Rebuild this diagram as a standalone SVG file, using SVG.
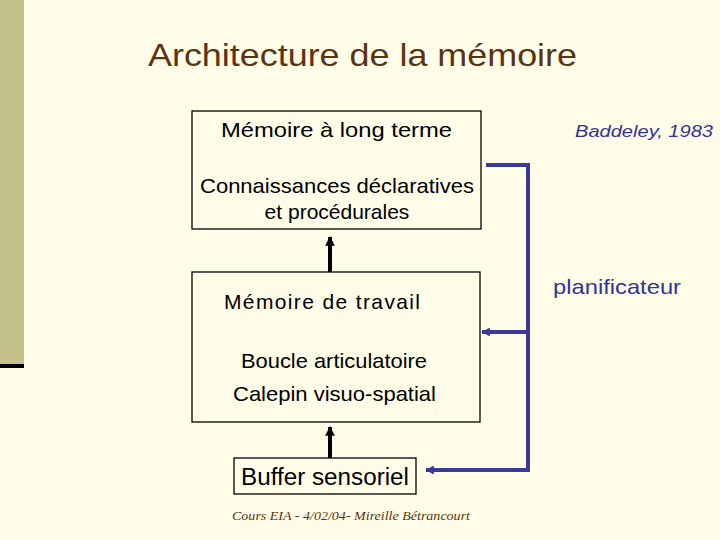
<svg xmlns="http://www.w3.org/2000/svg" width="720" height="540" viewBox="0 0 720 540">
<defs>
<style>
.t{font-family:"Liberation Sans",Arial,sans-serif;fill:#000}
.box{fill:none;stroke:#000;stroke-width:1.3}
.blk{stroke:#000;stroke-width:4;fill:none}
.blu{stroke:#3a3a9c;stroke-width:4;fill:none}
</style>
<marker id="ab" viewBox="0 0 10 10" refX="9" refY="5" markerWidth="2.4" markerHeight="2.4" orient="auto" markerUnits="strokeWidth"><path d="M0,0 L10,5 L0,10 z" fill="#000"/></marker>
<marker id="au" viewBox="0 0 10 10" refX="9" refY="5" markerWidth="2.4" markerHeight="2.2" orient="auto" markerUnits="strokeWidth"><path d="M0,0 L10,5 L0,10 z" fill="#3a3a9c"/></marker>
</defs>
<rect width="720" height="540" fill="#fffde8"/>
<rect x="0" y="0" width="24" height="364" fill="#c4c18a"/>
<rect x="0" y="364" width="24" height="4" fill="#000"/>
<text x="148" y="66" font-family="Liberation Sans,Arial,sans-serif" font-size="32" fill="#5c3310" textLength="429" lengthAdjust="spacingAndGlyphs">Architecture de la mémoire</text>
<g id="ltm">
<rect class="box" x="192" y="111" width="289" height="118"/>
<text class="t" x="221" y="137" font-size="21" textLength="231" lengthAdjust="spacingAndGlyphs">Mémoire à long terme</text>
<text class="t" x="200" y="193" font-size="21" textLength="274" lengthAdjust="spacingAndGlyphs">Connaissances déclaratives</text>
<text class="t" x="337" y="219" font-size="21" text-anchor="middle">et procédurales</text>
</g>
<g id="wm">
<rect class="box" x="192" y="272" width="288" height="150"/>
<text class="t" x="224" y="309" font-size="21" textLength="196" lengthAdjust="spacing">Mémoire de travail</text>
<text class="t" x="241" y="368" font-size="21" textLength="186" lengthAdjust="spacingAndGlyphs">Boucle articulatoire</text>
<text class="t" x="233" y="401" font-size="21" textLength="203" lengthAdjust="spacingAndGlyphs">Calepin visuo-spatial</text>
</g>
<g id="buffer">
<rect class="box" x="234" y="458" width="182" height="36"/>
<text class="t" x="241" y="485" font-size="23" textLength="168" lengthAdjust="spacingAndGlyphs">Buffer sensoriel</text>
</g>
<g id="labels">
<text x="575" y="137" font-family="Liberation Sans,Arial,sans-serif" font-style="italic" font-size="17" fill="#333399" textLength="138" lengthAdjust="spacingAndGlyphs">Baddeley, 1983</text>
<text x="553" y="294" font-family="Liberation Sans,Arial,sans-serif" font-size="21" fill="#333399" textLength="128" lengthAdjust="spacingAndGlyphs">planificateur</text>
<text x="232" y="520" font-family="Liberation Serif,'Times New Roman',serif" font-style="italic" font-size="13" fill="#5c3310" textLength="238" lengthAdjust="spacingAndGlyphs">Cours EIA - 4/02/04- Mireille Bétrancourt</text>
</g>
<g id="connectors">
<line class="blk" x1="330" y1="272" x2="330" y2="237" marker-end="url(#ab)"/>
<line class="blk" x1="330" y1="458" x2="330" y2="427" marker-end="url(#ab)"/>
<polyline class="blu" points="486,165 528,165 528,470 426,470" marker-end="url(#au)"/>
<line class="blu" x1="528" y1="332" x2="482" y2="332" marker-end="url(#au)"/>
</g>
</svg>
